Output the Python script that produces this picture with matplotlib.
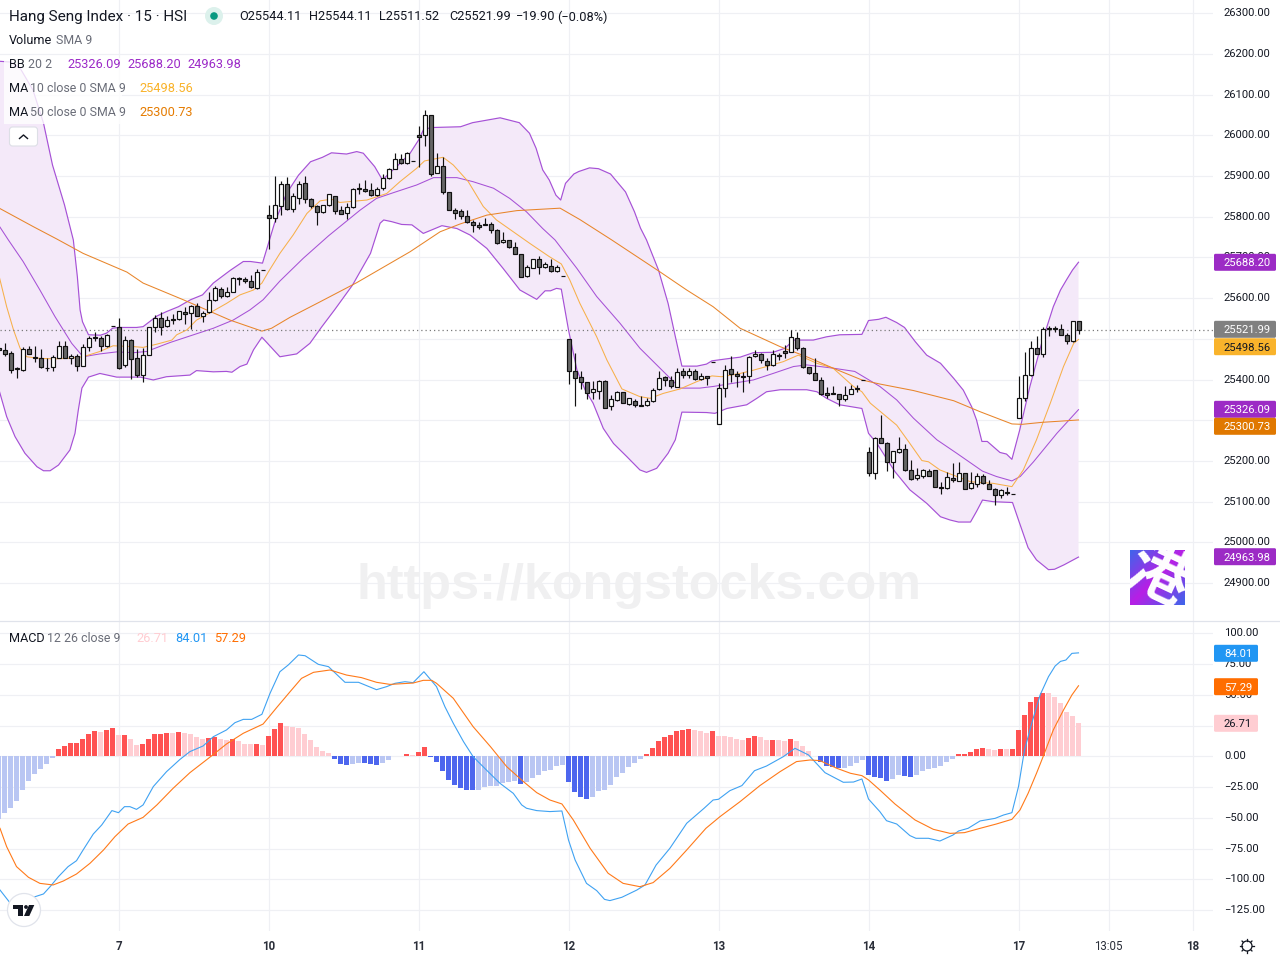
import numpy as np
import matplotlib
matplotlib.use("Agg")
import matplotlib.pyplot as plt
from matplotlib.patches import FancyBboxPatch, Circle, Rectangle, Polygon
from matplotlib.transforms import ScaledTranslation

plt.rcParams['font.family'] = ['Roboto', 'DejaVu Sans']

# ---------- data ----------
opens = [25478,25472,25465,25429,25423,25474,25455,25452,25429,25430,
25454,25483,25452,25457,25434,25481,25504,25501,25483,25531,
25528,25435,25497,25452,25411,25461,25528,25550,25531,25548,
25548,25565,25563,25580,25556,25565,25595,25622,25605,25614,
25649,25646,25641,25624,25668,25805,25798,25827,25880,25820,
25847,25882,25843,25827,25811,25828,25850,25816,25808,25823,
25870,25869,25865,25853,25870,25894,25916,25943,25931,25938,
26000,26000,26051,25908,25924,25860,25816,25813,25801,25786,
25779,25781,25781,25767,25737,25742,25725,25708,25654,25675,
25695,25676,25678,25666,25654,25499,25420,25406,25393,25369,
25371,25396,25334,25351,25369,25341,25347,25337,25337,25347,
25376,25406,25398,25381,25420,25411,25420,25401,25408,25442,
25290,25379,25425,25413,25408,25408,25457,25462,25445,25435,
25460,25469,25467,25501,25477,25430,25415,25398,25366,25366,
25364,25352,25364,25379,25399,25221,25170,25256,25243,25197,
25221,25229,25177,25157,25162,25175,25177,25135,25133,25157,
25150,25170,25133,25143,25162,25143,25130,25116,25123,25119,
25305,25354,25410,25477,25464,25526,25527,25523,25509,25494,25544.11]
highs = [25478,25489,25469,25432,25479,25483,25483,25475,25452,25460,
25494,25494,25463,25462,25488,25507,25516,25506,25511,25531,
25551,25507,25499,25474,25477,25528,25558,25565,25556,25562,
25569,25578,25584,25587,25569,25616,25631,25628,25628,25651,
25651,25651,25657,25672,25668,25830,25900,25888,25897,25859,
25888,25900,25847,25828,25830,25855,25850,25826,25833,25871,
25882,25890,25882,25872,25904,25919,25956,25953,25958,25938,
26024,26062,26051,25956,25946,25860,25821,25818,25816,25791,
25786,25796,25786,25769,25762,25743,25737,25708,25681,25695,
25703,25688,25695,25681,25654,25499,25465,25421,25393,25396,
25399,25398,25361,25372,25369,25354,25352,25360,25354,25379,
25421,25409,25409,25429,25428,25428,25425,25415,25409,25442,
25391,25435,25457,25420,25418,25457,25472,25465,25452,25472,
25465,25484,25522,25516,25479,25431,25452,25406,25381,25383,
25364,25383,25386,25386,25399,25234,25258,25312,25246,25224,
25258,25242,25202,25182,25180,25180,25177,25148,25173,25195,
25198,25170,25172,25170,25167,25153,25133,25130,25135,25119,
25408,25467,25494,25506,25528,25531,25531,25536,25514,25543,25544.11]
lows = [25470,25458,25417,25405,25420,25463,25444,25429,25422,25422,
25453,25453,25437,25422,25434,25471,25494,25471,25479,25531,
25427,25432,25402,25407,25395,25461,25518,25510,25530,25537,
25547,25537,25524,25555,25542,25564,25593,25600,25604,25614,
25632,25636,25624,25623,25668,25721,25788,25803,25817,25812,
25832,25833,25822,25780,25810,25827,25807,25806,25794,25821,
25857,25860,25852,25852,25866,25893,25916,25930,25929,25938,
25922,25974,25901,25907,25857,25816,25795,25794,25785,25763,
25771,25779,25759,25732,25736,25722,25708,25651,25651,25673,
25660,25673,25663,25663,25654,25389,25334,25378,25352,25353,
25352,25329,25326,25347,25342,25338,25332,25334,25334,25346,
25375,25385,25379,25381,25403,25403,25398,25399,25387,25442,
25290,25358,25393,25381,25369,25391,25455,25440,25423,25433,
25448,25452,25467,25473,25429,25413,25398,25361,25354,25364,
25336,25347,25364,25369,25399,25164,25155,25243,25176,25159,
25219,25175,25154,25153,25159,25162,25135,25120,25132,25149,
25150,25130,25132,25135,25144,25130,25093,25108,25117,25119,
25305,25347,25408,25464,25455,25506,25516,25509,25488,25493,25511.52]
closes = [25472,25464,25423,25427,25474,25464,25452,25430,25428,25456,
25483,25454,25457,25434,25479,25501,25502,25482,25509,25531,
25429,25497,25450,25411,25461,25528,25550,25528,25546,25546,
25568,25560,25580,25556,25564,25596,25624,25605,25614,25649,
25646,25641,25627,25665,25668,25796,25830,25880,25818,25850,
25880,25843,25827,25811,25828,25855,25813,25807,25825,25867,
25867,25862,25853,25867,25894,25916,25943,25931,25956,25938,
25997,26049,25904,25924,25860,25816,25810,25801,25786,25779,
25774,25779,25767,25735,25742,25725,25708,25651,25676,25695,
25676,25683,25666,25676,25654,25420,25403,25393,25366,25376,
25396,25329,25352,25369,25342,25354,25337,25336,25347,25374,
25403,25398,25383,25418,25411,25420,25401,25408,25403,25442,
25379,25423,25413,25408,25406,25455,25462,25447,25435,25462,
25457,25466,25504,25477,25430,25415,25398,25364,25361,25364,
25352,25361,25376,25376,25399,25170,25256,25243,25197,25224,
25229,25177,25155,25165,25177,25162,25135,25133,25160,25153,
25170,25130,25145,25162,25145,25130,25116,25128,25121,25119,
25354,25410,25477,25464,25523,25523,25524,25509,25494,25543,25521.99]

bb_upper_k = [-1,1,2.6,4.75,6.5,8,10,11.47,12.14,12.6,13,14,16,17,18,19,22,23.1,25.4,27,29,31,33,34.8,37.6,39.8,41,43,44,45,47,49,51,53,54.5,57,58.7,59.8,61.7,63,64,65.5,67.6,69,69.8,71,76,78,82.6,85.8,87.5,88.6,89.7,90.8,91.9,92.7,93.5,94.9,95.7,97.5,99,101,103.5,105,106,107,109,110.6,111.8,112.9,115.4,117,117.9,120.9,122.6,124.8,128.1,130.1,131.5,134.8,137,139.2,142.9,144,145.7,146.9,148.7,150,151.8,153.7,156,158.2,159.8,161.2,162,162.9,163.8,165.9,167,167.9,169.2,170.9,173,174,174.8,176,177,178,179]
bb_upper = [26182,26180,26165,26111,26030,25927,25829,25743,25653,25571,25542,25510,25509,25514,25526,25528,25528,25530,25556,25567,25579,25596,25608,25637,25668,25690,25690,25686,25735,25784,25857,25902,25935,25946,25957,25954,25960,25956,25923,25890,25905,25925,25956,25988,26013,26019,26021,26031,26043,26031,26005,25968,25915,25890,25853,25841,25882,25905,25911,25920,25918,25905,25861,25812,25772,25743,25669,25587,25506,25433,25433,25438,25446,25452,25455,25466,25467,25477,25497,25497,25505,25510,25511,25545,25548,25553,25540,25528,25493,25460,25440,25403,25374,25333,25301,25248,25248,25221,25217,25204,25276,25383,25497,25542,25579,25620,25645,25669,25688.2]

bb_lower_k = [-1,-0.75,0.36,1.75,3.4,5.4,6.5,7.6,9,10.9,11.75,12.3,12.9,14,15.9,18.7,22.6,24.8,27,30.9,32,34.8,37,37.9,39.25,40.4,41.5,42.9,45.9,48.7,50.9,52.9,55,58,61,62.6,63.2,64.5,66.2,67.9,69.8,72.9,75.4,77.6,80.4,83.1,85.9,88.7,90.1,91,92,92.8,94,95.4,96.75,98.1,99.8,101.5,103.7,105.9,107,108.7,110.6,111.8,112.9,117,118.4,120.4,123.7,125.4,127,129.3,133.7,135.4,137,139.2,142.9,144,145.4,148.4,150.9,153.7,156,157.6,159,161,162,163,164.8,168,169,170.6,172,174,175,176.6,179]
bb_lower = [25379,25366,25309,25260,25219,25186,25176,25176,25190,25227,25268,25325,25379,25406,25415,25406,25406,25399,25407,25411,25422,25419,25420,25418,25432,25438,25473,25504,25456,25463,25489,25530,25571,25632,25710,25784,25792,25788,25781,25780,25759,25778,25771,25755,25722,25673,25620,25597,25618,25618,25624,25622,25522,25424,25375,25342,25280,25243,25211,25178,25172,25182,25219,25252,25320,25319,25317,25329,25338,25354,25370,25375,25375,25370,25354,25338,25329,25268,25243,25174,25129,25096,25063,25055,25050,25050,25076,25104,25100,25098,25055,24987,24957,24933,24934,24945,24963.98]

bb_mid_k = [-1,0.64,3.1,5.9,8.4,11.2,13.1,15.9,18.7,21.5,23.7,27.6,31.5,34.8,38.1,40.9,43.1,45.9,49.8,54,59.25,62,64.8,68.7,71.5,75.4,78.1,81.5,84.2,87,89.7,91.75,95.4,98.7,102.6,105.9,108.7,112.6,115.9,118.1,121.5,124.8,128.1,131.5,133.7,138.1,141.7,145.9,148.7,151.5,155.4,158.7,163,165.3,167.9,169.3,171.5,175.4,179]
bb_mid = [25780,25743,25690,25620,25555,25489,25456,25463,25468,25466,25469,25491,25510,25526,25546,25571,25596,25642,25698,25753,25816,25845,25859,25878,25896,25896,25886,25870,25845,25812,25771,25743,25673,25604,25538,25477,25436,25379,25379,25383,25391,25399,25415,25432,25436,25428,25420,25383,25350,25305,25252,25219,25175,25162,25151,25162,25198,25268,25326.09]

ma10_k = [-1,0.36,1.5,2.6,3.7,5.9,8.4,10.6,13.1,15.9,18.1,21.5,23.1,25.4,27.9,28.7,30.4,32,34.25,37,39.25,41.5,42.9,44,45.9,48.1,50.4,52.6,54.5,55.9,60.4,63.7,65.9,68.7,70,73.1,74.8,77.3,79.8,82,84.8,87.5,90.8,92.8,94.2,95.9,98.7,100.4,102.9,105.9,107.6,109.8,112.6,115.4,117.9,119.5,122.6,124.8,127,129.8,132.3,135.4,138.1,141.5,142.9,144.3,148.7,150.9,152.9,154,155.9,158.7,161,164.8,167.9,169.8,172,174.3,176.5,178.2,179]
ma10 = [25660,25579,25522,25477,25456,25452,25451,25452,25456,25469,25483,25481,25479,25487,25497,25510,25522,25546,25564,25587,25608,25620,25637,25665,25710,25755,25808,25839,25843,25835,25841,25857,25886,25919,25937,25946,25927,25886,25825,25792,25763,25735,25702,25684,25645,25587,25505,25448,25377,25358,25354,25366,25377,25395,25409,25407,25415,25423,25432,25444,25460,25440,25428,25383,25370,25342,25288,25243,25201,25198,25178,25162,25149,25145,25137,25178,25252,25342,25432,25489,25498.56]

ma50_k = [-1,4.75,8.75,13.1,20.4,23.1,29.8,37.6,42.9,44.5,47.6,52.6,58.7,67.6,72.6,75.9,80.4,85.4,92.6,95.9,101.2,109.2,113.7,118.1,122.6,129.25,133.7,138.1,142.9,145.9,151.5,158.2,162.6,167.9,169.6,173,179]
ma50 = [25822,25776,25745,25710,25664,25637,25596,25546,25519,25526,25553,25591,25638,25714,25763,25782,25804,25815,25821,25793,25743,25665,25620,25579,25526,25481,25456,25428,25399,25389,25373,25348,25321,25291,25290,25295,25300.73]

hist = [-51.2,-45.8,-41.7,-36.3,-27.4,-20.0,-14.4,-10.3,-6.2,-1.4,
5.9,8.4,10.8,10.9,14.1,18.1,20.6,19.7,21.4,23.0,
17.3,17.4,14.1,9.2,10.0,14.1,18.0,18.1,18.9,18.8,
19.7,18.9,18.1,15.7,14.1,14.9,15.7,14.1,13.2,14.1,
12.4,10.0,9.8,10.0,9.2,16.5,22.2,27.0,24.6,23.8,
23.0,18.1,13.2,7.6,4.3,2.7,-2.2,-6.2,-7.1,-6.2,
-5.4,-5.5,-6.2,-7.1,-5.4,-3.0,0.3,0.35,1.9,1.1,
3.5,7.6,-0.3,-4.6,-11.9,-19.2,-23.3,-25.7,-27.4,-27.5,
-27.4,-24.9,-24.1,-24.0,-21.7,-20.9,-20.0,-22.5,-20.9,-17.6,
-15.2,-11.9,-11.1,-7.9,-7.1,-20.9,-29.0,-33.0,-34.7,-33.0,
-28.2,-27.4,-23.3,-16.8,-13.6,-8.7,-5.4,-2.2,1.9,6.7,
12.4,15.7,17.3,20.6,21.4,22.2,21.4,20.6,18.9,20.6,
16.5,16.4,15.7,14.1,13.2,14.9,16.5,15.7,13.2,13.3,
13.2,12.4,14.1,12.4,8.4,4.3,0.3,-4.6,-7.9,-8.7,
-9.5,-9.4,-7.9,-5.4,-3.0,-15.2,-16.8,-17.6,-20.0,-18.4,
-15.2,-16.0,-16.8,-15.2,-11.9,-10.3,-9.5,-7.9,-4.6,-2.2,
1.9,2.0,3.5,5.9,6.7,5.9,5.1,5.9,5.8,5.9,
21.4,33.5,44.1,48.2,51.4,51.3,48.2,43.3,36.0,32.7,26.71]

macd_k = [-0.75,0.9,2.6,4.8,6.5,7.6,9,10.6,12,13.1,14.8,16.2,17.9,19,20,20.9,22,23.1,24.8,27,29.25,30.9,33.1,34.8,37,38.4,39.8,41.2,42.9,44.25,45.9,47.3,49,50.1,52.3,54,56.75,59,62,63.7,65.1,66.75,68.1,69.9,72,73.4,74.8,76.5,78.1,80.6,82.6,84.8,86.2,87,88.7,90.9,92.9,94,95.1,97,98.7,100,100.9,102.9,105.4,106.75,108.6,110.9,113.7,116.6,118.1,119,120.9,122.9,125,127,129.8,131.75,134,136.75,139.8,141.5,142.9,144,145.9,147,148.7,150.9,151.9,154,155.9,158.1,159,160.6,162.6,165.1,166.5,167.9,169,170,171.2,172.6,174,175.1,176,176.9,177.9,179]
macd = [-108.6,-118.9,-122,-114.5,-111.8,-105.9,-97.7,-89.6,-84.8,-76.1,-63.1,-55.8,-44.1,-45.8,-40.9,-40.9,-43.1,-39.5,-24.6,-12.5,-2.5,3.8,8.4,15.9,21.4,27.3,30,30,34.1,51.1,68.7,74.2,82.3,81.7,74.7,72.8,60.1,60.1,54.1,56.6,59.3,60.6,59.8,68.7,56.6,40.3,26.8,11.9,-0.3,-12.5,-22,-30.1,-39.5,-42.2,-44.1,-44.9,-44.4,-68,-84.2,-103.2,-109.1,-116.2,-117.2,-114.5,-108.6,-104.5,-88.3,-74.7,-54.4,-42.2,-35.5,-34.9,-27.9,-23.8,-11.7,-7.9,-0.3,6.5,1.1,-13.3,-21.1,-20.9,-18.4,-34.7,-45,-52.3,-55,-64.4,-66.6,-66.6,-68.8,-63.9,-60.7,-58.5,-52.5,-50.4,-47.7,-45.8,-24.6,5.1,26.8,49.8,64.7,73.3,77.1,78.2,83.6,84.01]

signal_k = [-0.75,0.36,2,4,5.9,8.1,9.8,12,14.25,16.5,18.4,20.6,23.1,25.4,28.1,30.9,34,37,39.8,43.1,45.4,47.6,49.5,51.5,54.25,57,59.5,62,64.25,68.1,69.8,71.2,72,74.8,78.1,81,83.7,86.5,88.7,90.9,92.9,94.8,97.6,100.6,103.1,105.9,108.1,110.9,113.7,116.9,119.25,122.6,125.9,129.25,132,134.25,135.9,138.75,141,142.9,144,145.9,148.4,151.75,154.8,157.6,160,162.6,165.3,167.9,169.25,170.6,172,173.1,174.8,176.5,177.9,179]
signal = [-58.5,-73.4,-89.6,-98.3,-103.2,-104.5,-101.3,-95.6,-86.9,-76.1,-65.3,-55,-49.6,-39.5,-26,-13.3,-1.6,10,18.7,26.2,39.8,52.5,63.3,68.2,70.1,66,63.9,60.1,58.4,59.5,61.7,61.7,59.3,47.1,24.1,7.8,-8.4,-20.6,-29.5,-35.5,-38.7,-51.7,-74.7,-95,-103.2,-105.9,-102.6,-91,-76.1,-58.5,-49,-36.8,-23.8,-12.5,-4.3,-3,-3.5,-9.8,-13.8,-15.7,-19.2,-27.4,-38.7,-51.7,-59.3,-62.6,-62,-58.5,-55,-51.2,-43.6,-30.1,-13.8,-0.3,21.4,37.6,49.8,57.29]

price_ticks = list(range(24900, 26301, 100))
macd_ticks = list(range(-125, 101, 25))
# grid levels whose labels are covered by the value tags in the reference
covered_price_ticks = [25300, 25500]
covered_macd_ticks = [25]
time_labels = ['7', '10', '11', '12', '13', '14', '17', '13:05', '18']
time_bars = [19, 44, 69, 94, 119, 144, 169, 184, 198]
last_price = 25521.99

# ---------- layout ----------
W, H = 1280, 960
PLOT_R = 1213
px_per_bar = 6.0
x0 = 4.5
k_left = (0 - x0) / px_per_bar
k_right = (PLOT_R - x0) / px_per_bar
GRID = '#EFF0F4'
INK = '#131722'
MUTED = '#6A6D78'

fig = plt.figure(figsize=(12.8, 9.6), dpi=100, facecolor='white')
ax = fig.add_axes([0, (H - 621) / H, PLOT_R / W, 621 / H])
ax2 = fig.add_axes([0, (H - 931) / H, PLOT_R / W, (931 - 622) / H])

ax.set_xlim(k_left, k_right)
ax2.set_xlim(k_left, k_right)
ax.set_ylim(26000 - (621 - 135.3) / 0.4071, 26000 + 135.3 / 0.4071)
ax2.set_ylim((756.3 - 931) / 1.2312, (756.3 - 622) / 1.2312)

for a in (ax, ax2):
    for s in a.spines.values():
        s.set_visible(False)
    a.set_axisbelow(True)
    a.grid(True, color=GRID, lw=0.85)
    a.yaxis.tick_right()
    a.tick_params(axis='both', length=0, labelsize=8.1, labelcolor=INK)
    a.tick_params(axis='y', pad=7.9)
    a.set_xticks(time_bars)

ax.tick_params(axis='x', labelbottom=False)
ax.set_yticks(price_ticks)
ax.set_yticklabels(['' if v in covered_price_ticks else f'{v:.2f}' for v in price_ticks])
ax2.set_yticks(macd_ticks)
ax2.set_yticklabels(['' if v in covered_macd_ticks else f'{v:.2f}'.replace('-', '\u2212') for v in macd_ticks])
ax2.set_xticklabels(time_labels)
ax2.tick_params(axis='x', pad=6.7)
for lab, name in zip(ax2.get_xticklabels(), time_labels):
    lab.set_fontweight('normal' if ':' in name else 'bold')
    lab.set_fontsize(8.3)
    lab.set_color('#2A2E39')
up_1px = ScaledTranslation(0, 1 / 100, fig.dpi_scale_trans)
for a in (ax, ax2):
    for lab in a.get_yticklabels():
        lab.set_transform(lab.get_transform() + up_1px)

# ---------- main pane ----------
bars = np.arange(-1, 180)
o, h, l, c = map(np.asarray, (opens, highs, lows, closes))
ax.fill(np.r_[bb_upper_k, bb_lower_k[::-1]], np.r_[bb_upper, bb_lower[::-1]],
        color='#F4E9F9', lw=0, zorder=1)
bb_col = '#A651D6'
ax.plot(bb_upper_k, bb_upper, color=bb_col, lw=0.85, zorder=2)
ax.plot(bb_lower_k, bb_lower, color=bb_col, lw=0.85, zorder=2)
ax.plot(bb_mid_k, bb_mid, color=bb_col, lw=0.75, zorder=2)
ax.plot(ma10_k, ma10, color='#F7B04A', lw=0.75, zorder=2)
ax.plot(ma50_k, ma50, color='#E8852A', lw=0.75, zorder=2)
ax.axhline(last_price, color='#7B7B7B', lw=0.9, ls=(0, (1, 2.4)), zorder=2.5)
ax.vlines(bars, l, h, color='#111111', lw=0.85, zorder=3)
up = c >= o
ax.bar(bars, np.abs(c - o), bottom=np.minimum(o, c), width=4.0 / px_per_bar,
       color=np.where(up, 'white', '#666666'), edgecolor='#111111',
       linewidth=0.85, zorder=4)

# ---------- MACD pane ----------
hv = np.asarray(hist)
prev = np.r_[hv[0] - 1, hv[:-1]]
hist_cols = np.where(hv >= 0,
                     np.where(hv > prev, '#FF5252', '#FFCDD2'),
                     np.where(hv < prev, '#4D66EE', '#B9C6F3'))
ax2.bar(bars, hv, width=5.0 / px_per_bar, color=hist_cols, lw=0, zorder=2)
ax2.plot(macd_k, macd, color='#3FA2F2', lw=0.8, zorder=3)
ax2.plot(signal_k, signal, color='#FF7A1A', lw=0.8, zorder=3)

# ---------- logo box ----------
lg = fig.add_axes([1130 / W, (H - 605) / H, 55 / W, 55 / H])
lg.set_axis_off()
yy, xx = np.mgrid[0:1:64j, 0:1:64j]
t = np.clip(np.abs((xx + yy) - 1.0) * 1.0, 0, 1)
c_center = np.array([0.72, 0.12, 0.90])
c_edge = np.array([0.24, 0.40, 0.92])
lg.imshow((c_center[None, None, :] * (1 - t[..., None]) + c_edge[None, None, :] * t[..., None]),
          extent=(0, 1, 0, 1), aspect='auto')
lg.text(0.5, 0.5, '港', color='white', fontsize=44, fontweight='bold', rotation=-25,
        ha='center', va='center', family=['Noto Sans CJK SC'], clip_on=True)

# ---------- overlay in screen pixels ----------
ov = fig.add_axes([0, 0, 1, 1], facecolor='none')
ov.set_xlim(0, W)
ov.set_ylim(H, 0)
ov.set_axis_off()


def txt(x, y, s, px=12.0, color=INK, ha='left', weight='normal', family=None):
    kw = {'family': family} if family else {}
    ov.text(x, y + 1, s, fontsize=px * 0.72, color=color, ha=ha, va='center', fontweight=weight, **kw)


txt(639, 585, 'https://kongstocks.com', px=50.2, color='#F0F0F1', ha='center', weight='bold',
    family='Liberation Sans')
ov.add_patch(Rectangle((4, 58), 118, 66, fc='white', alpha=0.8, lw=0))
ov.plot([0, 1280], [620.7, 620.7], color='#E0E3EB', lw=0.9)

txt(9, 16, 'Hang Seng Index · 15 · HSI', px=15.3)
ov.add_patch(Circle((214, 16), 9, fc='#DCF1EC', lw=0))
ov.add_patch(Circle((214, 16), 3.8, fc='#089981', lw=0))
for x, s in [(239, 'O25544.11'), (309, 'H25544.11'), (379, 'L25511.52'), (449, 'C25521.99'),
             (516, '\u221219.90'), (557, '(\u22120.08%)')]:
    txt(x, 16, s, px=12.7)

txt(9, 40, 'Volume', px=12.6)
txt(56, 40, 'SMA 9', px=12.4, color=MUTED)
txt(9, 64, 'BB', px=12.6)
txt(28, 64, '20 2', px=12.4, color=MUTED)
for x, s in [(67, '25326.09'), (127, '25688.20'), (187, '24963.98')]:
    txt(x, 64, s, px=12.7, color='#9C2BC8')
txt(9, 88, 'MA', px=12.6)
txt(30, 88, '10 close 0 SMA 9', px=12.4, color=MUTED)
txt(139, 88, '25498.56', px=12.7, color='#F9B32B')
txt(9, 112, 'MA', px=12.6)
txt(30, 112, '50 close 0 SMA 9', px=12.4, color=MUTED)
txt(139, 112, '25300.73', px=12.7, color='#E57B00')
ov.add_patch(FancyBboxPatch((9.5, 127), 28, 19, boxstyle='round,pad=0,rounding_size=3',
                            fc='white', ec='#DDDFE6', lw=0.8))
ov.plot([19.5, 23.5, 27.5], [138.5, 135, 138.5], color=INK, lw=1.0)

txt(9, 638, 'MACD', px=12.6)
txt(47, 638, '12 26 close 9', px=12.4, color=MUTED)
txt(136, 638, '26.71', px=12.7, color='#FFCDD2')
txt(175, 638, '84.01', px=12.7, color='#2196F3')
txt(214, 638, '57.29', px=12.7, color='#FF6D00')


def tag(y, s, fc, fg, w=62):
    ov.add_patch(FancyBboxPatch((1214, y - 8.5), w, 17, boxstyle='round,pad=0,rounding_size=1.5',
                                fc=fc, lw=0))
    ov.text(1224, y + 1, s, fontsize=8.1, color=fg, ha='left', va='center')


tag(262.3, '25688.20', '#9C2BC5', 'white')
tag(329.3, '25521.99', '#808080', 'white')
tag(346.7, '25498.56', '#F9B32B', INK)
tag(409.3, '25326.09', '#9C2BC5', 'white')
tag(426.3, '25300.73', '#E07800', 'white')
tag(556.7, '24963.98', '#9C2BC5', 'white')
tag(653.3, '84.01', '#2196F3', 'white', w=44)
tag(686.7, '57.29', '#FF6D00', 'white', w=44)
tag(723.3, '26.71', '#FFCDD2', INK, w=44)

# TradingView badge
ov.add_patch(Circle((24, 910), 16.5, fc='white', ec='#E0E3EB', lw=0.9))
ov.add_patch(Polygon([(12.7, 905), (23, 905), (23, 916), (18, 916), (18, 909), (12.7, 909)], fc=INK, lw=0))
ov.add_patch(Circle((26, 907), 1.9, fc=INK, lw=0))
ov.add_patch(Polygon([(29, 905), (34.3, 905), (29.3, 916), (24, 916)], fc=INK, lw=0))

# settings gear
ov.add_patch(Circle((1247, 946), 5.0, fc='white', ec=INK, lw=0.9))
for a_ in np.deg2rad(np.arange(0, 360, 45)):
    ov.plot([1247 + 5 * np.cos(a_), 1247 + 7 * np.cos(a_)],
            [946 + 5 * np.sin(a_), 946 + 7 * np.sin(a_)], color=INK, lw=0.9)
ov.set_xlim(0, W)
ov.set_ylim(H, 0)

fig.savefig('out.png', dpi=100)
